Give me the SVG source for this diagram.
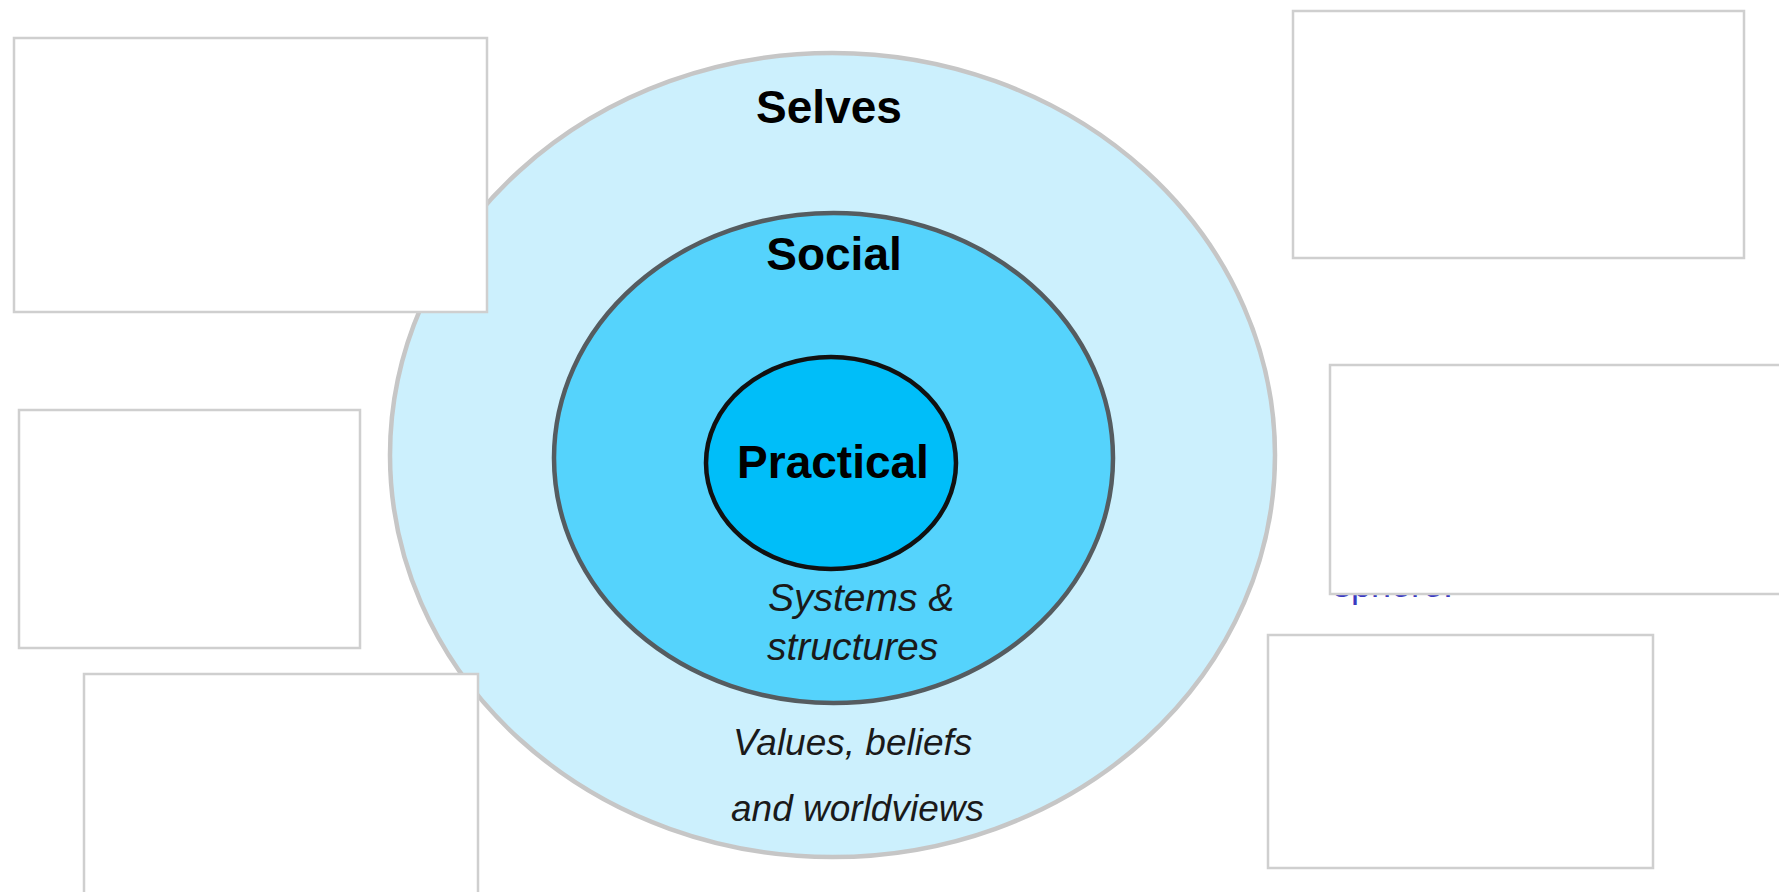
<svg xmlns="http://www.w3.org/2000/svg" width="1779" height="892" viewBox="0 0 1779 892">
  <style>
    .box { fill: #ffffff; stroke: #cfcfcf; stroke-width: 2.5; }
    .title { font-family: "Liberation Sans", Arial, sans-serif; font-weight: bold; font-size: 46px; fill: #000000; text-anchor: middle; }
    .note { font-family: "Liberation Sans", Arial, sans-serif; font-style: italic; font-size: 37px; fill: #1a1a1a; }
    .note-lg { font-size: 39px; }
    .hidden-note { font-family: "Liberation Sans", Arial, sans-serif; font-size: 36px; fill: #3a3ac0; }
  </style>

  <rect x="0" y="0" width="1779" height="892" fill="#ffffff"/>

  <!-- Concentric spheres -->
  <g id="selves">
    <ellipse cx="832.5" cy="455" rx="442.5" ry="402" fill="#ccf0fd" stroke="#c6c6c6" stroke-width="4.5"/>
    <text class="title" x="829" y="123">Selves</text>
    <text class="note" x="733" y="755">Values, beliefs</text>
    <text class="note" x="731" y="821">and worldviews</text>
  </g>

  <g id="social">
    <ellipse cx="833.5" cy="458" rx="279.5" ry="245" fill="#55d3fc" stroke="#555c60" stroke-width="4.5"/>
    <text class="title" x="834" y="270">Social</text>
    <text class="note note-lg" x="768" y="611">Systems &amp;</text>
    <text class="note note-lg" x="767" y="660">structures</text>
  </g>

  <g id="practical">
    <ellipse cx="831" cy="463" rx="125" ry="106" fill="#00bef9" stroke="#111111" stroke-width="4.5"/>
    <text class="title" x="833" y="478">Practical</text>
  </g>

  <!-- Text partly covered by the right-hand box -->
  <text class="hidden-note" x="1333" y="597">sphere.</text>

  <!-- Empty annotation boxes -->
  <g id="box-top-left"><rect class="box" x="14" y="38" width="473" height="274"/></g>
  <g id="box-mid-left"><rect class="box" x="19" y="410" width="341" height="238"/></g>
  <g id="box-bottom-left"><rect class="box" x="84" y="674" width="394" height="240"/></g>
  <g id="box-top-right"><rect class="box" x="1293" y="11" width="451" height="247"/></g>
  <g id="box-mid-right"><rect class="box" x="1330" y="365" width="470" height="229"/></g>
  <g id="box-bottom-right"><rect class="box" x="1268" y="635" width="385" height="233"/></g>

  <g id="connectors"></g>
</svg>
